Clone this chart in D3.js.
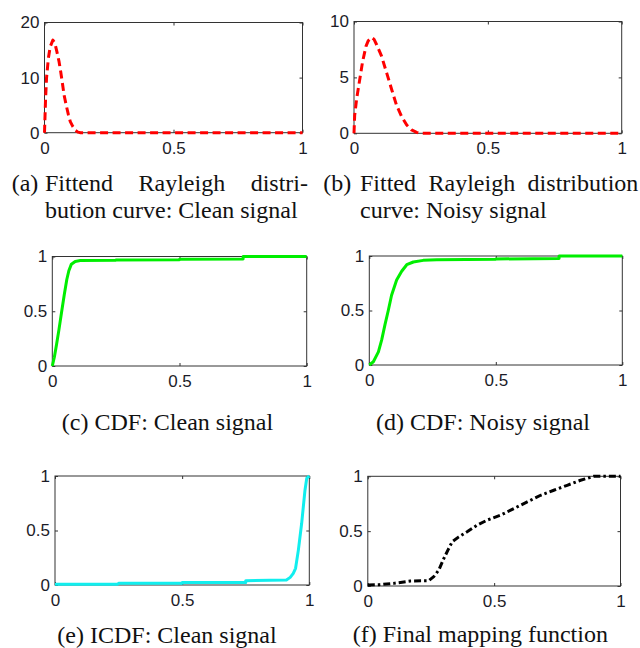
<!DOCTYPE html>
<html>
<head>
<meta charset="utf-8">
<script src="https://cdn.jsdelivr.net/npm/d3@7"></script>
<style>
  body { margin: 0; background: #fff; }
  .tick text { font-family: "Liberation Sans", Arial, sans-serif; font-size: 17px; fill: #1c1c28; }
  .cap { font-family: "Liberation Serif", "Times New Roman", serif; font-size: 24px; fill: #111; }
</style>
</head>
<body>
<svg id="fig"></svg>
<script>
// values
const xTicks = [0, 0.5, 1];
const xTickLabels = ["0", "0.5", "1"];
const unitTicks = [0, 0.5, 1];
const unitTickLabels = ["0", "0.5", "1"];

// (a) fitted Rayleigh pdf, clean signal
const pdfCleanX = [0, 0.002, 0.004, 0.008, 0.015, 0.022, 0.0325, 0.04, 0.048, 0.056, 0.063, 0.07, 0.076, 0.085, 0.093, 0.1, 0.11, 0.12, 0.13, 0.14, 0.3, 0.6, 1];
const pdfCleanY = [0, 3, 6, 10, 13.5, 15.6, 16.8, 16.3, 14.7, 13, 11, 8.8, 6.8, 4.8, 3.2, 2, 1.1, 0.4, 0.1, 0, 0, 0, 0];
const pdfCleanTicks = [0, 10, 20];

// (b) fitted Rayleigh pdf, noisy signal
const pdfNoisyX = [0, 0.0025, 0.01, 0.02, 0.032, 0.045, 0.053, 0.066, 0.075, 0.085, 0.103, 0.122, 0.141, 0.159, 0.178, 0.197, 0.215, 0.234, 0.25, 0.5, 1];
const pdfNoisyY = [0, 1.6, 3.1, 4.6, 6.4, 7.8, 8.27, 8.57, 8.4, 7.9, 6.9, 5.4, 3.9, 2.5, 1.5, 0.74, 0.3, 0.08, 0, 0, 0];
const pdfNoisyTicks = [0, 5, 10];

// (c) CDF clean
const cdfCleanX = [0, 0.008, 0.017, 0.026, 0.037, 0.047, 0.057, 0.065, 0.075, 0.09, 0.11, 0.25, 0.25, 0.5, 0.5, 0.75, 0.75, 1];
const cdfCleanY = [0, 0.08, 0.2, 0.33, 0.5, 0.65, 0.79, 0.87, 0.93, 0.955, 0.963, 0.966, 0.968, 0.97, 0.974, 0.977, 1, 1];

// (d) CDF noisy
const cdfNoisyX = [0, 0.016, 0.036, 0.049, 0.062, 0.075, 0.088, 0.108, 0.128, 0.148, 0.174, 0.213, 0.266, 0.5, 0.5, 0.75, 0.75, 1];
const cdfNoisyY = [0, 0.03, 0.12, 0.23, 0.37, 0.5, 0.64, 0.78, 0.86, 0.92, 0.945, 0.96, 0.966, 0.97, 0.973, 0.976, 1, 1];

// (e) ICDF clean
const icdfX = [0, 0.245, 0.25, 0.5, 0.5, 0.75, 0.75, 0.91, 0.925, 0.937, 0.946, 0.957, 0.97, 0.983, 0.99, 1];
const icdfY = [0.006, 0.006, 0.015, 0.015, 0.024, 0.024, 0.04, 0.046, 0.07, 0.107, 0.153, 0.32, 0.566, 0.87, 0.98, 1];

// (f) final mapping function
const mapX = [0, 0.046, 0.103, 0.169, 0.241, 0.261, 0.281, 0.298, 0.317, 0.334, 0.36, 0.393, 0.433, 0.472, 0.525, 0.578, 0.631, 0.684, 0.736, 0.789, 0.842, 0.895, 1];
const mapY = [0.01, 0.012, 0.024, 0.045, 0.048, 0.085, 0.145, 0.236, 0.327, 0.403, 0.448, 0.494, 0.555, 0.6, 0.645, 0.706, 0.767, 0.827, 0.873, 0.918, 0.964, 1, 1];

const W = 640, H = 648;
const svg = d3.select("#fig").attr("width", W).attr("height", H);

const panels = [
  { xs: pdfCleanX, ys: pdfCleanY, yMax: 20, yTicks: pdfCleanTicks, yLabels: pdfCleanTicks.map(String),
    box: [44.5, 22.5, 302.5, 132.7], color: "#ff0000", dash: "8,4.5" },
  { xs: pdfNoisyX, ys: pdfNoisyY, yMax: 10, yTicks: pdfNoisyTicks, yLabels: pdfNoisyTicks.map(String),
    box: [354, 21.5, 621.7, 133.3], color: "#ff0000", dash: "8,4.5" },
  { xs: cdfCleanX, ys: cdfCleanY, yMax: 1, yTicks: unitTicks, yLabels: unitTickLabels,
    box: [52.3, 256.5, 306.7, 366], color: "#00ee00", dash: null },
  { xs: cdfNoisyX, ys: cdfNoisyY, yMax: 1, yTicks: unitTicks, yLabels: unitTickLabels,
    box: [369.3, 256, 622.3, 365], color: "#00ee00", dash: null },
  { xs: icdfX, ys: icdfY, yMax: 1, yTicks: unitTicks, yLabels: unitTickLabels,
    box: [55, 476, 309.3, 585], color: "#11eeee", dash: null },
  { xs: mapX, ys: mapY, yMax: 1, yTicks: unitTicks, yLabels: unitTickLabels,
    box: [367.8, 476.3, 620.5, 586], color: "#000000", dash: "7,3,2.5,3" }
];

panels.forEach(p => {
  const [x0, y0, x1, y1] = p.box;
  const g = svg.append("g").attr("transform", `translate(${x0},${y0})`);
  const w = x1 - x0, h = y1 - y0;
  const x = d3.scaleLinear().domain([0, 1]).range([0, w]);
  const y = d3.scaleLinear().domain([0, p.yMax]).range([h, 0]);

  g.append("rect").attr("width", w).attr("height", h)
    .attr("fill", "none").attr("stroke", "#333").attr("stroke-width", 1);

  const ax = (axis, tr) => {
    const a = g.append("g").attr("transform", tr).call(axis);
    a.select(".domain").remove();
    a.selectAll("line").attr("stroke", "#333");
    return a;
  };
  ax(d3.axisBottom(x).tickValues(xTicks).tickFormat((d, i) => xTickLabels[i])
      .tickSizeInner(-3).tickSizeOuter(0).tickPadding(9), `translate(0,${h})`);
  ax(d3.axisLeft(y).tickValues(p.yTicks).tickFormat((d, i) => p.yLabels[i])
      .tickSizeInner(-3).tickSizeOuter(0).tickPadding(5), null);
  ax(d3.axisTop(x).tickValues(xTicks).tickFormat("").tickSizeInner(-3).tickSizeOuter(0), null);
  ax(d3.axisRight(y).tickValues(p.yTicks).tickFormat("").tickSizeInner(-3).tickSizeOuter(0), `translate(${w},0)`);
  g.selectAll(".tick text").attr("font-family", null).attr("font-size", null);

  const line = d3.line().x((d, i) => x(p.xs[i])).y((d, i) => y(p.ys[i]));
  g.append("path").datum(p.xs).attr("d", line)
    .attr("fill", "none").attr("stroke", p.color).attr("stroke-width", 3)
    .attr("stroke-dasharray", p.dash).attr("stroke-linejoin", "round");
});

// captions
function justified(x, yb, text, right) {
  const t = svg.append("text").attr("class", "cap").attr("x", x).attr("y", yb).text(text);
  const n = text.split(" ").length - 1;
  const extra = right - x - t.node().getComputedTextLength();
  if (n > 0 && extra > 0) t.attr("word-spacing", extra / n);
}
svg.append("text").attr("class", "cap").attr("x", 11.7).attr("y", 191).text("(a)");
justified(45, 191, "Fittend Rayleigh distri-", 308);
svg.append("text").attr("class", "cap").attr("x", 45).attr("y", 218).text("bution curve: Clean signal");

svg.append("text").attr("class", "cap").attr("x", 323.3).attr("y", 191).text("(b)");
justified(360, 191, "Fitted Rayleigh distribution", 638.3);
svg.append("text").attr("class", "cap").attr("x", 360).attr("y", 218).text("curve: Noisy signal");

const centred = [
  ["(c) CDF: Clean signal", 167.5, 429.5],
  ["(d) CDF: Noisy signal", 483, 429.5],
  ["(e) ICDF: Clean signal", 167, 642.5],
  ["(f) Final mapping function", 480.3, 642]
];
centred.forEach(([s, cx, yb]) => {
  svg.append("text").attr("class", "cap").attr("x", cx).attr("y", yb)
    .attr("text-anchor", "middle").text(s);
});
</script>
</body>
</html>
